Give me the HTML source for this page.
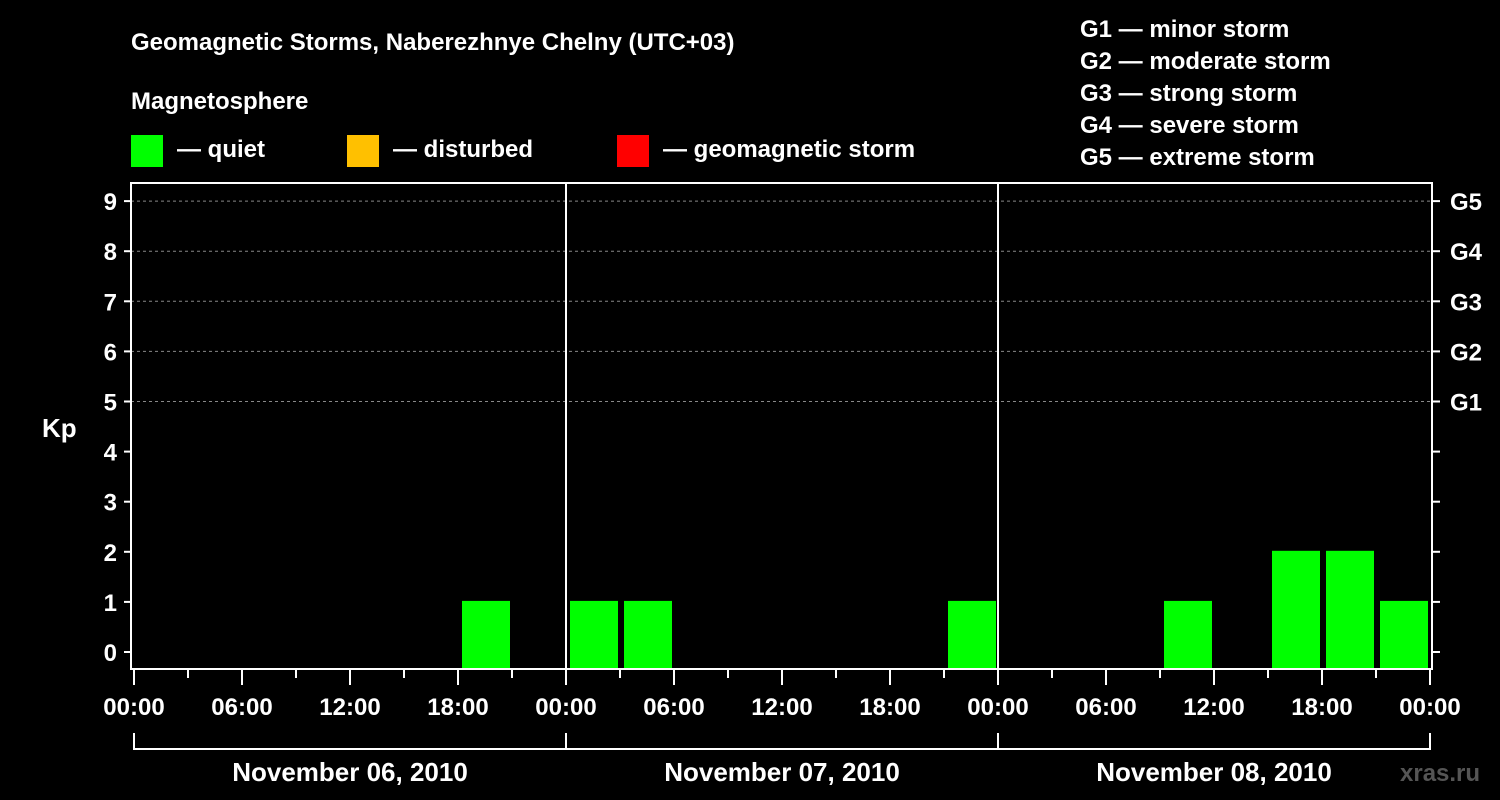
<!DOCTYPE html>
<html><head><meta charset="utf-8">
<style>
body{margin:0;background:#000;width:1500px;height:800px;overflow:hidden}
svg{display:block}
text{font-family:"Liberation Sans",Arial,sans-serif;font-weight:bold;fill:#fff}
</style></head><body>
<svg id="chart" width="1500" height="800" viewBox="0 0 1500 800">
<rect width="1500" height="800" fill="#000"/>
<text x="131" y="50" font-size="24">Geomagnetic Storms, Naberezhnye Chelny (UTC+03)</text>
<text x="131" y="109" font-size="24">Magnetosphere</text>
<g><rect x="131" y="135" width="32" height="32" fill="#00ff00"/><text x="177" y="157" font-size="24">— quiet</text></g>
<g><rect x="347" y="135" width="32" height="32" fill="#ffc000"/><text x="393" y="157" font-size="24">— disturbed</text></g>
<g><rect x="617" y="135" width="32" height="32" fill="#ff0000"/><text x="663" y="157" font-size="24">— geomagnetic storm</text></g>
<g font-size="24">
<text x="1080" y="37">G1 — minor storm</text>
<text x="1080" y="69">G2 — moderate storm</text>
<text x="1080" y="101">G3 — strong storm</text>
<text x="1080" y="133">G4 — severe storm</text>
<text x="1080" y="165">G5 — extreme storm</text>
</g>
<text x="42" y="437" font-size="26">Kp</text>
<text x="1400" y="781" font-size="24" fill="#555" style="fill:#555">xras.ru</text>
<g id="grid"></g><g id="bars"></g><g id="axes"></g>
</svg>
<script>
const kpValues=[0,0,0,0,0,0,1,0, 1,1,0,0,0,0,0,1, 0,0,0,1,0,2,2,1];
const dayLabels=["November 06, 2010","November 07, 2010","November 08, 2010"];
const hourLabels=["00:00","06:00","12:00","18:00"];
const kpTicks=[0,1,2,3,4,5,6,7,8,9];
const gLabels=["G1","G2","G3","G4","G5"];
const NS="http://www.w3.org/2000/svg";
const X0=134,DAYW=432,SLOT=54,PL=131,PR=1432,PT=183,PB=669;
const y=k=>652-k*50.1;
const x=s=>X0+s*SLOT;
function mk(t,a,p){const e=document.createElementNS(NS,t);for(const k in a)e.setAttribute(k,a[k]);p.appendChild(e);return e;}
const grid=document.getElementById('grid'),bars=document.getElementById('bars'),axes=document.getElementById('axes');
kpTicks.forEach(k=>{
 if(k>=5){const l=mk('line',{x1:PL,x2:PR,y1:y(k),y2:y(k),stroke:'#888','stroke-dasharray':'3,3','stroke-width':1},grid);
 
 }
 const t=mk('line',{x1:PL-7,x2:PL,y1:y(k),y2:y(k),stroke:'#fff','stroke-width':2},axes);
 
 
 const r=mk('line',{x1:PR,x2:PR+8,y1:y(k),y2:y(k),stroke:'#fff','stroke-width':2},axes);
 
 
 const tx=mk('text',{x:PL-14,y:y(k)+9,'font-size':24,'text-anchor':'end'},axes);tx.textContent=k;
 
 
});
gLabels.forEach((g,i)=>{const tx=mk('text',{x:1450,y:y(5+i)+9,'font-size':24},axes);tx.textContent=g;
 
 });
kpValues.forEach((k,i)=>{if(k<=0)return;
 const top=y(k)-1;
 const b=mk('rect',{x:x(i)+4,y:top,width:48,height:PB-1-top,fill:k>=5?'#ff0000':(k>=4?'#ffc000':'#00ff00')},bars);
 
 });
const fr=mk('rect',{x:PL,y:PT,width:PR-PL,height:PB-PT,fill:'none',stroke:'#fff','stroke-width':2},axes);


for(let d=1;d<3;d++){const l=mk('line',{x1:X0+d*DAYW,x2:X0+d*DAYW,y1:PT,y2:PB,stroke:'#fff','stroke-width':2},axes);
 
 }
for(let s=0;s<=24;s++){const major=s%2==0;
 const t=mk('line',{x1:x(s),x2:x(s),y1:PB,y2:PB+(major?16:9),stroke:'#fff','stroke-width':2},axes);
 
 
 if(major){const tx=mk('text',{x:x(s),y:715,'font-size':24,'text-anchor':'middle'},axes);tx.textContent=hourLabels[(s/2)%4];
 
 }}
dayLabels.forEach((d,i)=>{const x1=X0+i*DAYW,x2=x1+DAYW;
 const p=mk('path',{d:`M${x1} 733V749H${x2}V733`,fill:'none',stroke:'#fff','stroke-width':2},axes);
 
 
 const tx=mk('text',{x:(x1+x2)/2,y:781,'font-size':26,'text-anchor':'middle'},axes);tx.textContent=d;
 
 });
</script>
</body></html>
